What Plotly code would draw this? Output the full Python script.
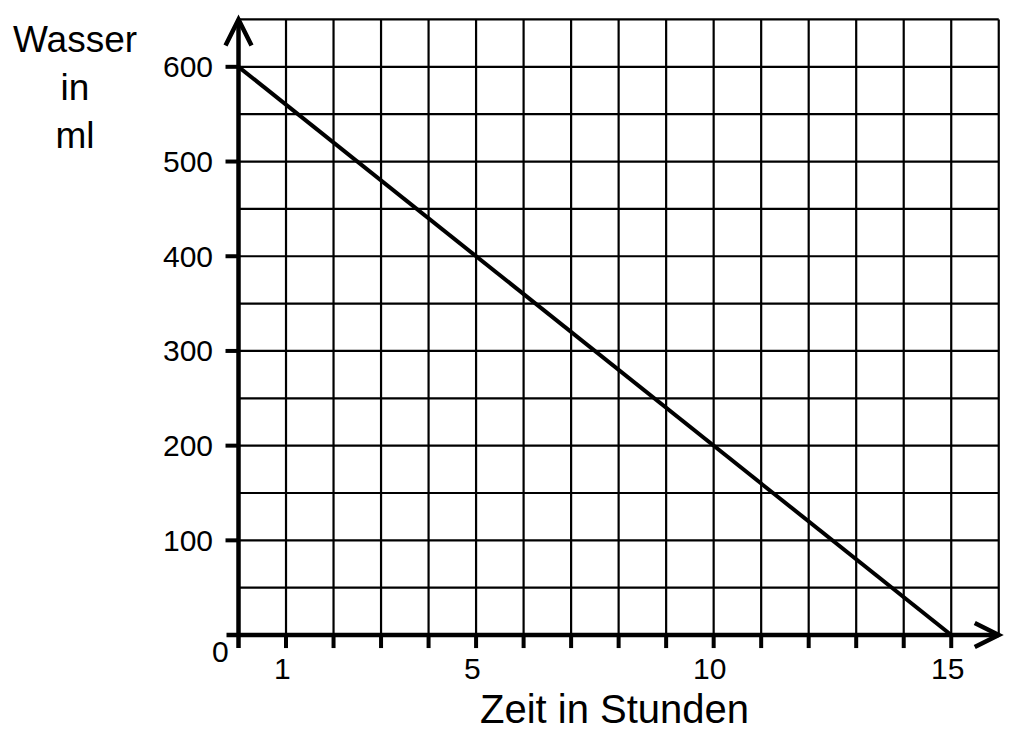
import plotly.graph_objects as go

# data
zeit = [0, 5, 10, 15]            # hours
wasser = [600, 400, 200, 0]      # ml

x_ticks = [1, 5, 10, 15]
y_ticks = [100, 200, 300, 400, 500, 600]
x_grid = list(range(0, 17))
y_grid = list(range(0, 651, 50))

X_MAX, Y_MAX = 16, 650
x_range = [-0.6, 16.3]
y_range = [-20, 660]

# figure geometry (pixels); the page adds an 8px body margin
W, H = 1027, 730
OFF = 8
L, T = 210 - OFF, 10 - OFF
PW, PH = 803, 644
sx = PW / (x_range[1] - x_range[0])   # px per hour
sy = PH / (y_range[1] - y_range[0])   # px per ml

FONT = "Liberation Sans, Arial, sans-serif"


def paper(px, py):
    # page pixel -> paper coords
    return (px - OFF - L) / PW, (T + PH - (py - OFF)) / PH


fig = go.Figure()

# the line
fig.add_trace(go.Scatter(x=zeit, y=wasser, mode="lines",
                         line=dict(color="black", width=4),
                         hoverinfo="skip", showlegend=False))

shapes = []
# grid
for gx in x_grid[1:]:
    shapes.append(dict(type="line", x0=gx, x1=gx, y0=0, y1=Y_MAX,
                       line=dict(color="black", width=2.2)))
for gy in y_grid[1:]:
    shapes.append(dict(type="line", x0=0, x1=X_MAX, y0=gy, y1=gy,
                       line=dict(color="black", width=2.2)))

# axes
shapes.append(dict(type="line", x0=-12 / sx, x1=X_MAX, y0=0, y1=0,
                   line=dict(color="black", width=4.5)))
shapes.append(dict(type="line", x0=0, x1=0, y0=-13 / sy, y1=Y_MAX,
                   line=dict(color="black", width=4.5)))

# ticks
for tx in range(1, 16):
    shapes.append(dict(type="line", x0=tx, x1=tx, y0=0, y1=-13 / sy,
                       line=dict(color="black", width=4)))
for ty in y_ticks:
    shapes.append(dict(type="line", x0=-13 / sx, x1=0, y0=ty, y1=ty,
                       line=dict(color="black", width=4)))

# arrow heads
ax, ay = 24 / sx, 12 / sy
shapes.append(dict(type="path",
                   path=f"M {X_MAX - ax},{ay} L {X_MAX},0 L {X_MAX - ax},{-ay}",
                   line=dict(color="black", width=4.5)))
bx, by = 13 / sx, 26 / sy
shapes.append(dict(type="path",
                   path=f"M {-bx},{Y_MAX - by} L 0,{Y_MAX} L {bx},{Y_MAX - by}",
                   line=dict(color="black", width=4.5)))

annotations = []
for tx in x_ticks:
    annotations.append(dict(x=tx, y=0, xref="x", yref="y", text=str(tx),
                            showarrow=False, yanchor="middle", xshift=-4,
                            yshift=-33, font=dict(size=30, color="black", family=FONT)))
for ty in y_ticks:
    annotations.append(dict(x=0, y=ty, xref="x", yref="y", text=str(ty),
                            showarrow=False, xanchor="right", xshift=-24,
                            font=dict(size=30, color="black", family=FONT)))
annotations.append(dict(x=0, y=0, xref="x", yref="y", text="0",
                        showarrow=False, xshift=-18, yshift=-16,
                        font=dict(size=30, color="black", family=FONT)))

# axis titles
tx_, ty_ = paper(614, 709)
annotations.append(dict(x=tx_, y=ty_, xref="paper", yref="paper", text="Zeit in Stunden",
                        xanchor="center", yanchor="middle", showarrow=False,
                        font=dict(size=40, color="black", family=FONT)))
tx_, ty_ = paper(75, 88)
annotations.append(dict(x=tx_, y=ty_, xref="paper", yref="paper",
                        text="Wasser<br>in<br>ml", showarrow=False,
                        xanchor="center", yanchor="middle",
                        font=dict(size=37, color="black", family=FONT)))

fig.update_layout(
    width=W, height=H,
    margin=dict(l=L, r=W - L - PW, t=T, b=H - T - PH),
    plot_bgcolor="white", paper_bgcolor="white",
    shapes=shapes, annotations=annotations,
    xaxis=dict(range=x_range, visible=False, fixedrange=True),
    yaxis=dict(range=y_range, visible=False, fixedrange=True),
)

fig.write_html("out.html")
